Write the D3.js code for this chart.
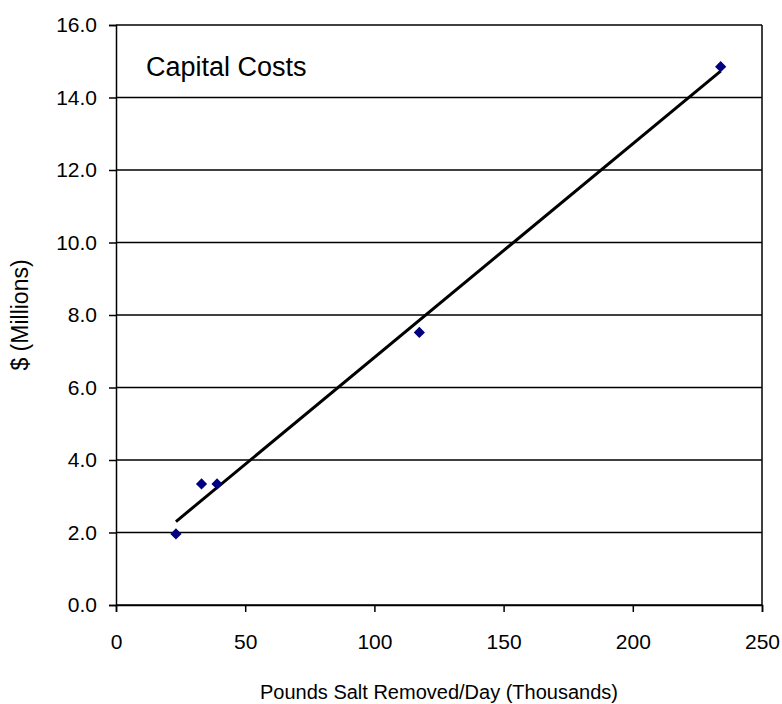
<!DOCTYPE html>
<html>
<head>
<meta charset="utf-8">
<script src="https://cdn.jsdelivr.net/npm/d3@7"></script>
<style>
  body { margin: 0; background: #fff; }
  svg text { font-family: "Liberation Sans", Arial, sans-serif; fill: #000; }
</style>
</head>
<body>
<div id="container"></div>
<script>
const width = 782,
  height = 704,
  margin = { top: 25, bottom: 99, left: 116, right: 20 };

/* DATA */
const poundsSalt = [23.2, 33.1, 39.1, 117.4, 234.0];   // thousands lb/day
const capitalCost = [1.96, 3.34, 3.34, 7.52, 14.85];   // $ millions
const xTicks = [0, 50, 100, 150, 200, 250];
const yTicks = [0, 2, 4, 6, 8, 10, 12, 14, 16];
const chartTitle = "Capital Costs";
const xTitle = "Pounds Salt Removed/Day (Thousands)";
const yTitle = "$ (Millions)";

const data = poundsSalt.map((x, i) => ({ x: x, y: capitalCost[i] }));

// linear trendline (least squares)
const mx = d3.mean(poundsSalt), my = d3.mean(capitalCost);
const slope = d3.sum(data, d => (d.x - mx) * (d.y - my)) / d3.sum(data, d => (d.x - mx) ** 2);
const intercept = my - slope * mx;
const trend = d3.extent(poundsSalt).map(x => ({ x: x, y: intercept + slope * x }));

/* SCALES */
const xScale = d3.scaleLinear()
  .domain([0, 250])
  .range([margin.left, width - margin.right]);

const yScale = d3.scaleLinear()
  .domain([0, 16])
  .range([height - margin.bottom, margin.top]);

const svg = d3.select("#container")
  .append("svg")
  .attr("width", width)
  .attr("height", height);

// gridlines
svg.append("g")
  .selectAll("line")
  .data(yTicks)
  .join("line")
  .attr("x1", margin.left)
  .attr("x2", width - margin.right)
  .attr("y1", d => yScale(d))
  .attr("y2", d => yScale(d))
  .attr("stroke", "#000")
  .attr("stroke-width", 1.5);

// right border
svg.append("line")
  .attr("x1", width - margin.right)
  .attr("x2", width - margin.right)
  .attr("y1", yScale(16))
  .attr("y2", yScale(0))
  .attr("stroke", "#000")
  .attr("stroke-width", 1.5);

// axes
const xAxis = d3.axisBottom(xScale).tickValues(xTicks).tickSize(7).tickPadding(22).tickFormat(d3.format("d"));
svg.append("g")
  .attr("transform", `translate(0, ${height - margin.bottom})`)
  .call(xAxis)
  .call(g => g.selectAll("text").attr("font-size", 21).attr("font-family", "Liberation Sans, Arial, sans-serif"))
  .call(g => g.selectAll("line, path").attr("stroke", "#000").attr("stroke-width", 1.5));

const yAxis = d3.axisLeft(yScale).tickValues(yTicks).tickSize(7).tickPadding(12).tickFormat(d3.format(".1f"));
svg.append("g")
  .attr("transform", `translate(${margin.left}, 0)`)
  .call(yAxis)
  .call(g => g.selectAll("text").attr("font-size", 21).attr("font-family", "Liberation Sans, Arial, sans-serif"))
  .call(g => g.selectAll("line, path").attr("stroke", "#000").attr("stroke-width", 1.5));

// trendline
svg.append("line")
  .attr("x1", xScale(trend[0].x))
  .attr("y1", yScale(trend[0].y))
  .attr("x2", xScale(trend[1].x))
  .attr("y2", yScale(trend[1].y))
  .attr("stroke", "#000")
  .attr("stroke-width", 3);

// points (diamonds)
svg.selectAll(".pt")
  .data(data)
  .join("path")
  .attr("class", "pt")
  .attr("d", d3.symbol(d3.symbolDiamond2, 80))
  .attr("transform", d => `translate(${xScale(d.x)}, ${yScale(d.y)})`)
  .attr("fill", "#000080");

// titles
svg.append("text")
  .attr("x", 146)
  .attr("y", 76)
  .attr("font-size", 27)
  .text(chartTitle);

svg.append("text")
  .attr("x", (margin.left + width - margin.right) / 2)
  .attr("y", 699)
  .attr("text-anchor", "middle")
  .attr("font-size", 20)
  .text(xTitle);

svg.append("text")
  .attr("transform", `translate(28, ${(yScale(0) + yScale(16)) / 2}) rotate(-90)`)
  .attr("text-anchor", "middle")
  .attr("font-size", 23)
  .text(yTitle);
</script>
</body>
</html>
